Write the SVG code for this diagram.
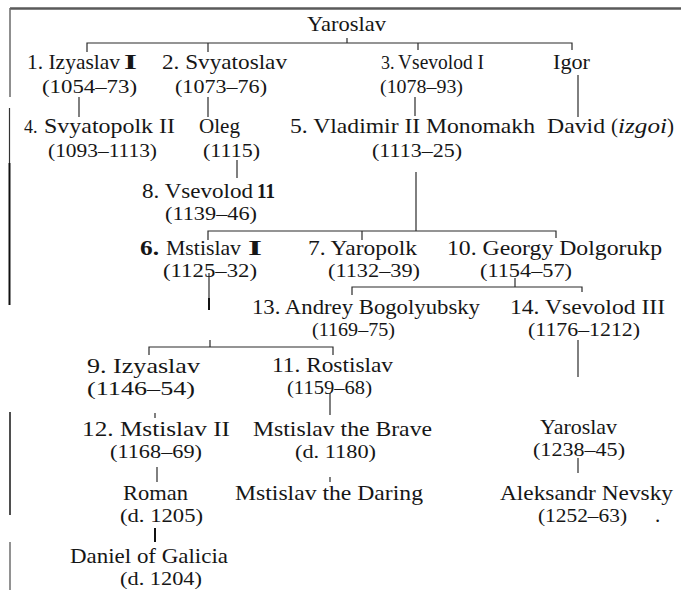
<svg xmlns="http://www.w3.org/2000/svg" width="681" height="590" viewBox="0 0 681 590">
  <style>
    text { font-family: "Liberation Serif", "Times New Roman", serif; font-size: 21px; fill: #161616; }
    text.d { font-size: 19px; }
    text.s { font-size: 18px; }
    .b { font-weight: bold; }
    .i { font-style: italic; }
    .ln { stroke: #2a2a2a; stroke-width: 1.2; fill: none; }
    .lt { stroke: #111; stroke-width: 2; fill: none; }
    .frame { stroke: #5a5a5a; stroke-width: 2.5; fill: none; }
  </style>
  <rect width="681" height="590" fill="#ffffff"/>

  <!-- page frame -->
  <g id="frame">
    <path class="frame" d="M10 8.5 H681"/>
    <path d="M10 8 V97" stroke="#6a6a6a" stroke-width="1.5"/>
    <path d="M9.5 108 V163" stroke="#333" stroke-width="1.2"/>
    <path d="M9.5 163 V305" stroke="#111" stroke-width="2"/>
    <path d="M10 412 V515" stroke="#222" stroke-width="1.6"/>
    <path d="M10 542 V590" stroke="#777" stroke-width="1.6"/>
  </g>

  <!-- family lines -->
  <g id="connectors">
    <path class="ln" d="M347 38 V43"/>
    <path class="ln" d="M87 52 V43 H572 V50"/>
    <path class="ln" d="M208 43 V52"/>
    <path class="ln" d="M418 43 V50"/>
    <path class="ln" d="M79 97 V117"/>
    <path class="ln" d="M208 97 V117"/>
    <path class="ln" d="M415 97 V116"/>
    <path class="ln" d="M578 75 V117"/>
    <path class="ln" d="M237 160 V178"/>
    <path class="ln" d="M416 172 V231"/>
    <path class="ln" d="M208 240 V231 H556 V238"/>
    <path class="ln" d="M362 231 V240"/>
    <path class="ln" d="M209 273 V300"/>
    <path class="lt" d="M209 298 V310"/>
    <path class="ln" d="M210 340 V347"/>
    <path class="ln" d="M149 355 V347 H333 V355"/>
    <path class="ln" d="M515 278 V287"/>
    <path class="ln" d="M352 295 V287 H582 V292"/>
    <path class="ln" d="M578 340 V377"/>
    <path class="ln" d="M330 393 V415"/>
    <path class="ln" d="M155 413 V418"/>
    <path class="ln" d="M157 467 V482"/>
    <path class="ln" d="M330 477 V482"/>
    <path class="lt" d="M155 528 V542"/>
    <path class="ln" d="M578 458 V473"/>
  </g>

  <g id="yaroslav">
    <text x="307" y="31" textLength="79" lengthAdjust="spacingAndGlyphs">Yaroslav</text>
  </g>
  <g id="izyaslav-i">
    <text x="27" y="69" textLength="93" lengthAdjust="spacingAndGlyphs">1. Izyaslav</text>
    <text class="b" x="124" y="69" textLength="13" lengthAdjust="spacingAndGlyphs">I</text>
    <text class="d" x="42" y="93" textLength="95" lengthAdjust="spacingAndGlyphs">(1054–73)</text>
  </g>
  <g id="svyatoslav">
    <text x="162" y="69" textLength="125" lengthAdjust="spacingAndGlyphs">2. Svyatoslav</text>
    <text class="d" x="175" y="93" textLength="92" lengthAdjust="spacingAndGlyphs">(1073–76)</text>
  </g>
  <g id="vsevolod-i">
    <text class="s" x="381" y="69">3.</text>
    <text x="398" y="69" textLength="86" lengthAdjust="spacingAndGlyphs">Vsevolod I</text>
    <text class="d" x="380" y="93" textLength="83" lengthAdjust="spacingAndGlyphs">(1078–93)</text>
  </g>
  <g id="igor">
    <text x="553" y="69" textLength="37" lengthAdjust="spacingAndGlyphs">Igor</text>
  </g>
  <g id="svyatopolk-ii">
    <text class="s" x="24" y="133">4.</text>
    <text x="44" y="133" textLength="131" lengthAdjust="spacingAndGlyphs">Svyatopolk II</text>
    <text class="d" x="48" y="157" textLength="109" lengthAdjust="spacingAndGlyphs">(1093–1113)</text>
  </g>
  <g id="oleg">
    <text x="199" y="133" textLength="41" lengthAdjust="spacingAndGlyphs">Oleg</text>
    <text class="d" x="203" y="157" textLength="57" lengthAdjust="spacingAndGlyphs">(1115)</text>
  </g>
  <g id="vladimir-ii">
    <text x="290" y="133" textLength="245" lengthAdjust="spacingAndGlyphs">5. Vladimir II Monomakh</text>
    <text class="d" x="372" y="157" textLength="90" lengthAdjust="spacingAndGlyphs">(1113–25)</text>
  </g>
  <g id="david">
    <text x="547" y="133" textLength="58" lengthAdjust="spacingAndGlyphs">David</text>
    <text x="611" y="133">(</text>
    <text class="i" x="618" y="133" textLength="49" lengthAdjust="spacingAndGlyphs">izgoi</text>
    <text x="667" y="133">)</text>
  </g>
  <g id="vsevolod-ii">
    <text x="142" y="198" textLength="111" lengthAdjust="spacingAndGlyphs">8. Vsevolod</text>
    <text class="b" x="257" y="198" textLength="18" lengthAdjust="spacingAndGlyphs">11</text>
    <text class="d" x="165" y="220" textLength="92" lengthAdjust="spacingAndGlyphs">(1139–46)</text>
  </g>
  <g id="mstislav-i">
    <text class="b" x="140" y="255" textLength="19" lengthAdjust="spacingAndGlyphs">6.</text>
    <text x="166" y="255" textLength="75" lengthAdjust="spacingAndGlyphs">Mstislav</text>
    <text class="b" x="248" y="255" textLength="14" lengthAdjust="spacingAndGlyphs">I</text>
    <text class="d" x="163" y="277" textLength="94" lengthAdjust="spacingAndGlyphs">(1125–32)</text>
  </g>
  <g id="yaropolk">
    <text x="308" y="255" textLength="109" lengthAdjust="spacingAndGlyphs">7. Yaropolk</text>
    <text class="d" x="328" y="277" textLength="92" lengthAdjust="spacingAndGlyphs">(1132–39)</text>
  </g>
  <g id="georgy">
    <text x="447" y="255" textLength="215" lengthAdjust="spacingAndGlyphs">10. Georgy Dolgorukp</text>
    <text class="d" x="480" y="277" textLength="92" lengthAdjust="spacingAndGlyphs">(1154–57)</text>
  </g>
  <g id="andrey">
    <text x="252" y="314" textLength="228" lengthAdjust="spacingAndGlyphs">13. Andrey Bogolyubsky</text>
    <text class="d" x="312" y="336" textLength="83" lengthAdjust="spacingAndGlyphs">(1169–75)</text>
  </g>
  <g id="vsevolod-iii">
    <text x="510" y="314" textLength="155" lengthAdjust="spacingAndGlyphs">14. Vsevolod III</text>
    <text class="d" x="528" y="336" textLength="112" lengthAdjust="spacingAndGlyphs">(1176–1212)</text>
  </g>
  <g id="izyaslav-ii">
    <text x="87" y="373" textLength="113" lengthAdjust="spacingAndGlyphs">9. Izyaslav</text>
    <text class="d" x="87" y="395" textLength="108" lengthAdjust="spacingAndGlyphs">(1146–54)</text>
  </g>
  <g id="rostislav">
    <text x="272" y="372" textLength="121" lengthAdjust="spacingAndGlyphs">11. Rostislav</text>
    <text class="d" x="287" y="394" textLength="85" lengthAdjust="spacingAndGlyphs">(1159–68)</text>
  </g>
  <g id="mstislav-ii">
    <text x="82" y="436" textLength="148" lengthAdjust="spacingAndGlyphs">12. Mstislav II</text>
    <text class="d" x="110" y="458" textLength="92" lengthAdjust="spacingAndGlyphs">(1168–69)</text>
  </g>
  <g id="mstislav-brave">
    <text x="253" y="436" textLength="179" lengthAdjust="spacingAndGlyphs">Mstislav the Brave</text>
    <text class="d" x="295" y="458" textLength="81" lengthAdjust="spacingAndGlyphs">(d. 1180)</text>
  </g>
  <g id="roman">
    <text x="123" y="500" textLength="65" lengthAdjust="spacingAndGlyphs">Roman</text>
    <text class="d" x="120" y="522" textLength="83" lengthAdjust="spacingAndGlyphs">(d. 1205)</text>
  </g>
  <g id="mstislav-daring">
    <text x="235" y="500" textLength="188" lengthAdjust="spacingAndGlyphs">Mstislav the Daring</text>
  </g>
  <g id="daniel">
    <text x="70" y="563" textLength="158" lengthAdjust="spacingAndGlyphs">Daniel of Galicia</text>
    <text class="d" x="120" y="585" textLength="82" lengthAdjust="spacingAndGlyphs">(d. 1204)</text>
  </g>
  <g id="yaroslav-ii">
    <text x="540" y="434" textLength="77" lengthAdjust="spacingAndGlyphs">Yaroslav</text>
    <text class="d" x="533" y="456" textLength="92" lengthAdjust="spacingAndGlyphs">(1238–45)</text>
  </g>
  <g id="aleksandr">
    <text x="500" y="500" textLength="173" lengthAdjust="spacingAndGlyphs">Aleksandr Nevsky</text>
    <text class="d" x="538" y="522" textLength="89" lengthAdjust="spacingAndGlyphs">(1252–63)</text>
    <text x="655" y="522">.</text>
  </g>
</svg>
